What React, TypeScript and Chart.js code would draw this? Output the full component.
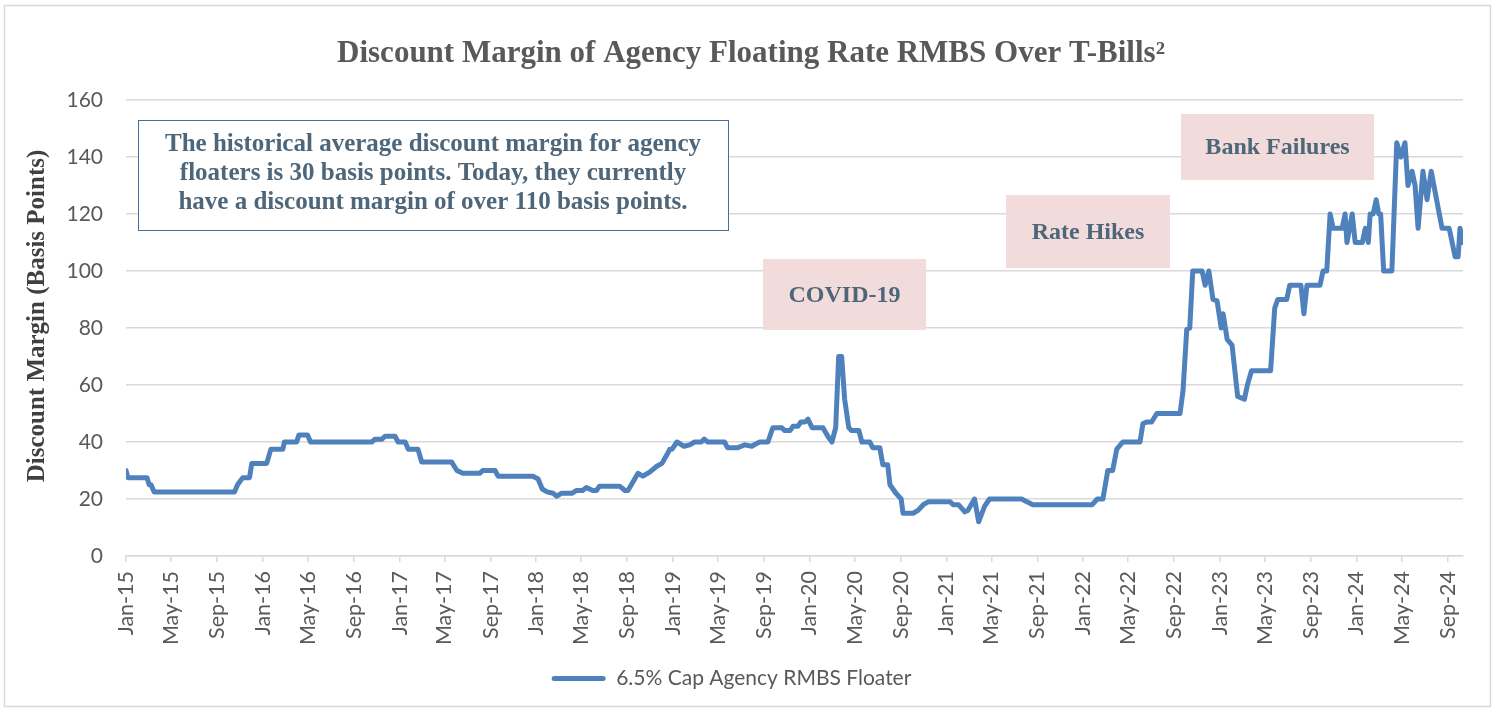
import React, { useEffect, useRef } from 'react';
import { Chart, registerables } from 'chart.js';

Chart.register(...registerables);

const chartTitle = 'Discount Margin of Agency Floating Rate RMBS Over T-Bills²';
const yAxisTitle = 'Discount Margin (Basis Points)';
const seriesLabel = '6.5% Cap Agency RMBS Floater';
const noteLines = [
  'The historical average discount margin for agency',
  'floaters is 30 basis points. Today, they currently',
  'have a discount margin of over 110 basis points.',
];
const eventLabels = ['COVID-19', 'Rate Hikes', 'Bank Failures'];

const tickLabels = [
  'Jan-15', 'May-15', 'Sep-15', 'Jan-16', 'May-16', 'Sep-16', 'Jan-17', 'May-17', 'Sep-17', 'Jan-18',
  'May-18', 'Sep-18', 'Jan-19', 'May-19', 'Sep-19', 'Jan-20', 'May-20', 'Sep-20', 'Jan-21', 'May-21',
  'Sep-21', 'Jan-22', 'May-22', 'Sep-22', 'Jan-23', 'May-23', 'Sep-23', 'Jan-24', 'May-24', 'Sep-24',
];

const dates = [
  '2015-01-01', '2015-01-06', '2015-02-26', '2015-03-04', '2015-03-09', '2015-03-17', '2015-10-18', '2015-10-26',
  '2015-11-09', '2015-11-27', '2015-12-03', '2016-01-12', '2016-01-23', '2016-02-24', '2016-02-28', '2016-04-01',
  '2016-04-07', '2016-04-30', '2016-05-08', '2016-10-19', '2016-10-27', '2016-11-15', '2016-11-23', '2016-12-20',
  '2016-12-28', '2017-01-16', '2017-01-24', '2017-02-19', '2017-03-01', '2017-05-20', '2017-06-03', '2017-06-19',
  '2017-08-03', '2017-08-11', '2017-09-13', '2017-09-21', '2017-12-23', '2018-01-06', '2018-01-17', '2018-01-30',
  '2018-02-15', '2018-02-25', '2018-03-09', '2018-04-06', '2018-04-19', '2018-05-05', '2018-05-15', '2018-06-01',
  '2018-06-11', '2018-06-19', '2018-08-12', '2018-08-26', '2018-09-03', '2018-09-30', '2018-10-13', '2018-11-01',
  '2018-11-19', '2018-12-03', '2018-12-16', '2018-12-24', '2018-12-30', '2019-01-12', '2019-01-31', '2019-02-15',
  '2019-02-28', '2019-03-18', '2019-03-26', '2019-04-04', '2019-05-19', '2019-05-27', '2019-06-23', '2019-07-12',
  '2019-07-31', '2019-08-13', '2019-08-21', '2019-09-12', '2019-09-25', '2019-10-19', '2019-10-27', '2019-11-10',
  '2019-11-18', '2019-12-01', '2019-12-09', '2019-12-20', '2019-12-28', '2020-01-08', '2020-02-06', '2020-02-19',
  '2020-03-01', '2020-03-11', '2020-03-19', '2020-03-27', '2020-04-04', '2020-04-15', '2020-04-23', '2020-05-12',
  '2020-05-20', '2020-06-10', '2020-06-18', '2020-07-07', '2020-07-15', '2020-07-28', '2020-08-03', '2020-08-19',
  '2020-09-02', '2020-09-07', '2020-10-04', '2020-10-17', '2020-10-31', '2020-11-13', '2021-01-11', '2021-01-19',
  '2021-02-02', '2021-02-19', '2021-02-27', '2021-03-17', '2021-03-28', '2021-04-13', '2021-04-26', '2021-07-21',
  '2021-08-04', '2021-08-20', '2022-01-25', '2022-02-08', '2022-02-23', '2022-03-08', '2022-03-21', '2022-04-01',
  '2022-04-17', '2022-06-02', '2022-06-10', '2022-06-20', '2022-07-03', '2022-07-17', '2022-09-17', '2022-09-25',
  '2022-10-05', '2022-10-13', '2022-10-21', '2022-11-15', '2022-11-23', '2022-12-03', '2022-12-14', '2022-12-25',
  '2023-01-05', '2023-01-10', '2023-01-21', '2023-02-03', '2023-02-18', '2023-03-08', '2023-03-16', '2023-03-27',
  '2023-05-17', '2023-05-28', '2023-06-05', '2023-06-29', '2023-07-07', '2023-08-06', '2023-08-14', '2023-08-22',
  '2023-09-26', '2023-10-04', '2023-10-14', '2023-10-23', '2023-10-31', '2023-11-24', '2023-12-02', '2023-12-07',
  '2023-12-21', '2023-12-29', '2024-01-17', '2024-01-25', '2024-02-02', '2024-02-07', '2024-02-15', '2024-02-23',
  '2024-03-01', '2024-03-06', '2024-03-14', '2024-04-05', '2024-04-18', '2024-04-29', '2024-05-10', '2024-05-18',
  '2024-05-29', '2024-06-06', '2024-06-14', '2024-06-27', '2024-07-08', '2024-07-19', '2024-08-17', '2024-09-05',
  '2024-09-21', '2024-09-29', '2024-10-04', '2024-10-12',
];

const values = [
  30, 27.5, 27.5, 25, 25, 22.5, 22.5, 25,
  27.5, 27.5, 32.5, 32.5, 37.5, 37.5, 40, 40,
  42.5, 42.5, 40, 40, 41, 41, 42, 42,
  40, 40, 37.5, 37.5, 33, 33, 30, 29,
  29, 30, 30, 28, 28, 27, 23.5, 22.5,
  22, 21, 22, 22, 23, 23, 24, 23,
  23, 24.5, 24.5, 23, 23, 29, 28, 29.5,
  31.5, 32.5, 35.5, 37.5, 37.5, 40, 38.5, 39,
  40, 40, 41, 40, 40, 38, 38, 39,
  38.5, 39.5, 40, 40, 45, 45, 44, 44,
  45.5, 45.5, 47, 47, 48, 45, 45, 42,
  40, 45, 70, 70, 55, 45, 44, 44,
  40, 40, 38, 38, 32, 32, 25, 22,
  20, 15, 15, 16, 18, 19, 19, 18,
  18, 15.5, 16, 20, 12, 17.5, 20, 20,
  19, 18, 18, 20, 20, 30, 30, 37.5,
  40, 40, 46.5, 47, 47, 50, 50, 58,
  79.5, 80, 100, 100, 95, 100, 90, 89.5,
  80, 85, 76, 74, 56, 55, 60, 65,
  65, 87, 90, 90, 95, 95, 85, 95,
  95, 100, 100, 120, 115, 115, 120, 110,
  120, 110, 110, 115, 110, 120, 120, 125,
  120, 120, 100, 100, 145, 140, 145, 130,
  135, 130, 115, 135, 125, 135, 115, 115,
  105, 105, 115, 110,
];

const MONTHS = ['Jan', 'Feb', 'Mar', 'Apr', 'May', 'Jun', 'Jul', 'Aug', 'Sep', 'Oct', 'Nov', 'Dec'];
const DAY = 86400000;
const ORIGIN = Date.UTC(2015, 0, 1);
const dateToDay = (s: string) => {
  const [y, m, d] = s.split('-').map(Number);
  return (Date.UTC(y, m - 1, d) - ORIGIN) / DAY;
};
const labelToDay = (l: string) => {
  const [mon, yy] = l.split('-');
  return (Date.UTC(2000 + Number(yy), MONTHS.indexOf(mon), 1) - ORIGIN) / DAY;
};

const LINE_COLOR = '#4f81bd';
const GRID_COLOR = '#d9d9d9';
const AXIS_TEXT = '#595959';
const NOTE_TEXT = '#4d6679';
const SERIF = '"Liberation Serif", "DejaVu Serif", serif';
const SANS = 'Lato, "Liberation Sans", sans-serif';

const decorPlugin = {
  id: 'decor',
  beforeDatasetsDraw(chart: any) {
    const ctx = chart.ctx;
    ctx.save();
    const boxes = [
      { text: eventLabels[0], x: 763, y: 259, w: 163, h: 71 },
      { text: eventLabels[1], x: 1006, y: 195, w: 164, h: 73 },
      { text: eventLabels[2], x: 1181, y: 114, w: 193, h: 66 },
    ];
    ctx.font = `bold 24px ${SERIF}`;
    ctx.textAlign = 'center';
    ctx.textBaseline = 'middle';
    boxes.forEach((b) => {
      ctx.fillStyle = '#f2dcdb';
      ctx.fillRect(b.x, b.y, b.w, b.h);
      ctx.fillStyle = NOTE_TEXT;
      ctx.fillText(b.text, b.x + b.w / 2, b.y + b.h / 2 + 1);
    });
    ctx.fillStyle = '#ffffff';
    ctx.fillRect(138, 120, 590, 110);
    ctx.strokeStyle = '#41719c';
    ctx.lineWidth = 1;
    ctx.strokeRect(138.5, 120.5, 590, 110);
    ctx.fillStyle = NOTE_TEXT;
    ctx.font = `bold 25px ${SERIF}`;
    noteLines.forEach((line, i) => {
      ctx.fillText(line, 433, 145 + i * 29);
    });
    ctx.restore();
  },
  afterDraw(chart: any) {
    const ctx = chart.ctx;
    ctx.save();
    ctx.strokeStyle = GRID_COLOR;
    ctx.lineWidth = 1.5;
    ctx.strokeRect(4.5, 5.5, 1486, 701);
    ctx.fillStyle = AXIS_TEXT;
    ctx.font = `bold 31px ${SERIF}`;
    ctx.textAlign = 'center';
    ctx.textBaseline = 'middle';
    ctx.fillText(chartTitle, 751, 54);
    ctx.translate(38, 316);
    ctx.rotate(-Math.PI / 2);
    ctx.fillStyle = '#404040';
    ctx.font = `bold 25px ${SERIF}`;
    ctx.fillText(yAxisTitle, 0, 0);
    ctx.restore();
  },
};

export default function App() {
  const ref = useRef<HTMLCanvasElement>(null);

  useEffect(() => {
    if (!ref.current) return;
    const points = dates.map((d, i) => ({ x: dateToDay(d), y: values[i] }));
    const tickDays = tickLabels.map(labelToDay);
    const chart = new Chart(ref.current, {
      type: 'line',
      data: {
        datasets: [
          {
            label: seriesLabel,
            data: points,
            borderColor: LINE_COLOR,
            backgroundColor: LINE_COLOR,
            borderWidth: 5,
            pointRadius: 0,
            tension: 0,
            borderJoinStyle: 'round',
            borderCapStyle: 'round',
            fill: false,
          },
        ],
      },
      options: {
        responsive: false,
        animation: false,
        devicePixelRatio: 1,
        layout: { padding: { top: 100, right: 38, bottom: 12, left: 0 } },
        plugins: {
          title: { display: false },
          tooltip: { enabled: false },
          legend: {
            display: true,
            position: 'bottom',
            labels: {
              boxWidth: 54,
              boxHeight: 5,
              padding: 10,
              useBorderRadius: true,
              color: AXIS_TEXT,
              font: { family: SANS, size: 21 },
              generateLabels: () => [
                {
                  text: seriesLabel,
                  fillStyle: LINE_COLOR,
                  strokeStyle: LINE_COLOR,
                  lineWidth: 0,
                  borderRadius: 2.5,
                  hidden: false,
                  datasetIndex: 0,
                  fontColor: AXIS_TEXT,
                },
              ],
            },
          },
        },
        scales: {
          x: {
            type: 'linear',
            min: 0,
            max: dateToDay(dates[dates.length - 1]),
            afterBuildTicks: (scale: any) => {
              scale.ticks = tickDays.map((v) => ({ value: v }));
            },
            afterFit: (scale: any) => {
              scale.height = 102;
            },
            ticks: {
              autoSkip: false,
              minRotation: 90,
              maxRotation: 90,
              padding: 9,
              color: AXIS_TEXT,
              font: { family: SANS, size: 21.5 },
              callback: (_v: any, i: number) => tickLabels[i],
            },
            grid: {
              drawOnChartArea: false,
              drawTicks: true,
              tickLength: 6,
              color: GRID_COLOR,
              lineWidth: 1.5,
            },
            border: { display: true, color: GRID_COLOR, width: 1.5 },
          },
          y: {
            min: 0,
            max: 160,
            afterFit: (scale: any) => {
              scale.width = 126;
            },
            ticks: {
              stepSize: 20,
              padding: 23,
              color: AXIS_TEXT,
              font: { family: SANS, size: 21 },
            },
            grid: { color: GRID_COLOR, lineWidth: 1.5, drawTicks: false },
            border: { display: false },
          },
        },
      },
      plugins: [decorPlugin],
    } as any);
    return () => chart.destroy();
  }, []);

  return (
    <div style={{ position: 'fixed', left: 0, top: 0, width: 1501, height: 711, background: '#ffffff' }}>
      <canvas ref={ref} width={1501} height={711} style={{ display: 'block' }} />
    </div>
  );
}
